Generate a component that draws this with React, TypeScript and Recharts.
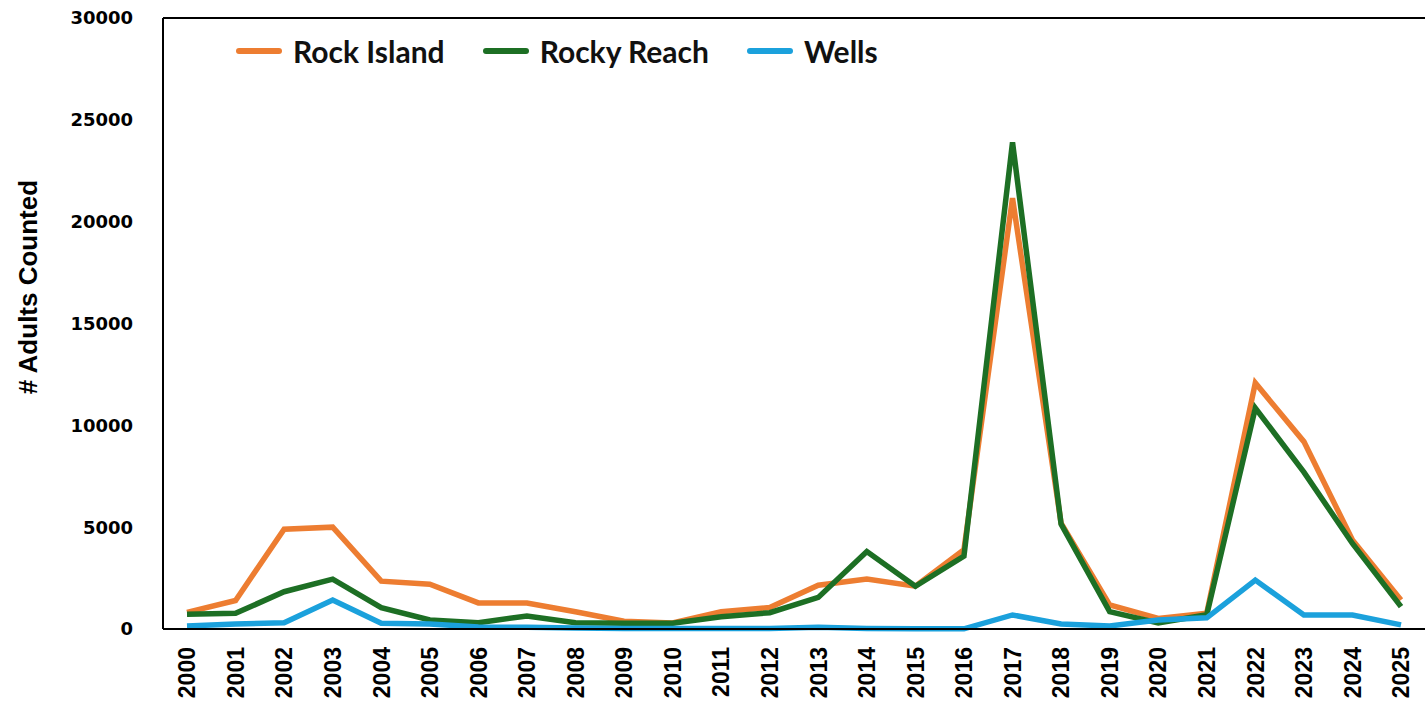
import { LineChart, Line, XAxis, YAxis, Legend, ReferenceLine } from "recharts";

const years = [
  "2000", "2001", "2002", "2003", "2004", "2005", "2006", "2007", "2008",
  "2009", "2010", "2011", "2012", "2013", "2014", "2015", "2016", "2017",
  "2018", "2019", "2020", "2021", "2022", "2023", "2024", "2025",
];

const rockIsland = [
  820, 1400, 4900, 5000, 2350, 2200, 1280, 1280, 850, 380, 300, 850, 1050,
  2150, 2450, 2100, 3900, 21150, 5200, 1180, 520, 780, 12080, 9200, 4370, 1420,
];

const rockyReach = [
  720, 770, 1830, 2450, 1050, 440, 310, 640, 310, 280, 280, 600, 800, 1550,
  3800, 2100, 3580, 23900, 5150, 850, 300, 700, 10850, 7700, 4200, 1100,
];

const wells = [
  150, 250, 310, 1420, 280, 250, 100, 80, 50, 30, 20, 20, 30, 80, 20, 10, 10,
  690, 250, 150, 440, 550, 2400, 690, 690, 200,
];

const yTicks = [0, 5000, 10000, 15000, 20000, 25000, 30000];

const series = [
  { key: "rockIsland", name: "Rock Island", color: "#ED7D31" },
  { key: "rockyReach", name: "Rocky Reach", color: "#1D6F24" },
  { key: "wells", name: "Wells", color: "#1BA1DC" },
];

const data = years.map((year, i) => ({
  year,
  rockIsland: rockIsland[i],
  rockyReach: rockyReach[i],
  wells: wells[i],
}));

function YearTick({ x, y, payload }: any) {
  return (
    <text
      x={x}
      y={y}
      transform={`rotate(-90, ${x}, ${y})`}
      textAnchor="end"
      dy="0.36em"
      fill="#000"
      fontFamily="'Liberation Sans', Arial, sans-serif"
      fontWeight={700}
      fontSize={23}
    >
      {payload.value}
    </text>
  );
}

function YTitle() {
  return (
    <text
      x={28}
      y={287}
      transform="rotate(-90, 28, 287)"
      textAnchor="middle"
      dominantBaseline="central"
      fill="#000"
      fontFamily="'Liberation Sans', Arial, sans-serif"
      fontWeight={700}
      fontSize={26}
    >
      # Adults Counted
    </text>
  );
}

function LegendBox() {
  return (
    <div style={{ display: "flex", alignItems: "center" }}>
      {series.map((s) => (
        <div
          key={s.key}
          style={{ display: "flex", alignItems: "center", marginRight: 38 }}
        >
          <div
            style={{
              width: 46,
              height: 6,
              borderRadius: 3,
              background: s.color,
              marginRight: 11,
            }}
          />
          <span
            style={{
              fontFamily: "Lato, 'Open Sans', sans-serif",
              fontWeight: 700,
              fontSize: 30,
              color: "#111",
              lineHeight: "36px",
            }}
          >
            {s.name}
          </span>
        </div>
      ))}
    </div>
  );
}

export default function App() {
  return (
    <div
      style={{
        position: "absolute",
        left: 0,
        top: 0,
        width: 1425,
        height: 704,
        overflow: "hidden",
        background: "#fff",
      }}
    >
      <LineChart
        width={1425}
        height={704}
        data={data}
        margin={{ top: 18, right: 0, left: 0, bottom: 0 }}
      >
        <XAxis
          dataKey="year"
          interval={0}
          height={75}
          padding={{ left: 24, right: 24 }}
          tickLine={false}
          tickMargin={12}
          axisLine={{ stroke: "#000", strokeWidth: 2 }}
          tick={<YearTick />}
        />
        <YAxis
          width={163}
          domain={[0, 30000]}
          ticks={yTicks}
          tickLine={false}
          tickMargin={24}
          axisLine={{ stroke: "#000", strokeWidth: 2 }}
          tick={{
            fill: "#000",
            fontFamily: "'DejaVu Sans', sans-serif",
            fontWeight: 700,
            fontSize: 18,
          }}
          label={{ content: () => <YTitle /> }}
        />
        <ReferenceLine y={30000} stroke="#000" strokeWidth={2} />
        <Legend
          layout="horizontal"
          verticalAlign="middle"
          align="center"
          content={() => <LegendBox />}
          wrapperStyle={{ top: 33, left: 236, width: "auto" }}
        />
        {series.map((s) => (
          <Line
            key={s.key}
            type="linear"
            dataKey={s.key}
            name={s.name}
            stroke={s.color}
            strokeWidth={5.5}
            dot={false}
            activeDot={false}
            isAnimationActive={false}
          />
        ))}
      </LineChart>
    </div>
  );
}
